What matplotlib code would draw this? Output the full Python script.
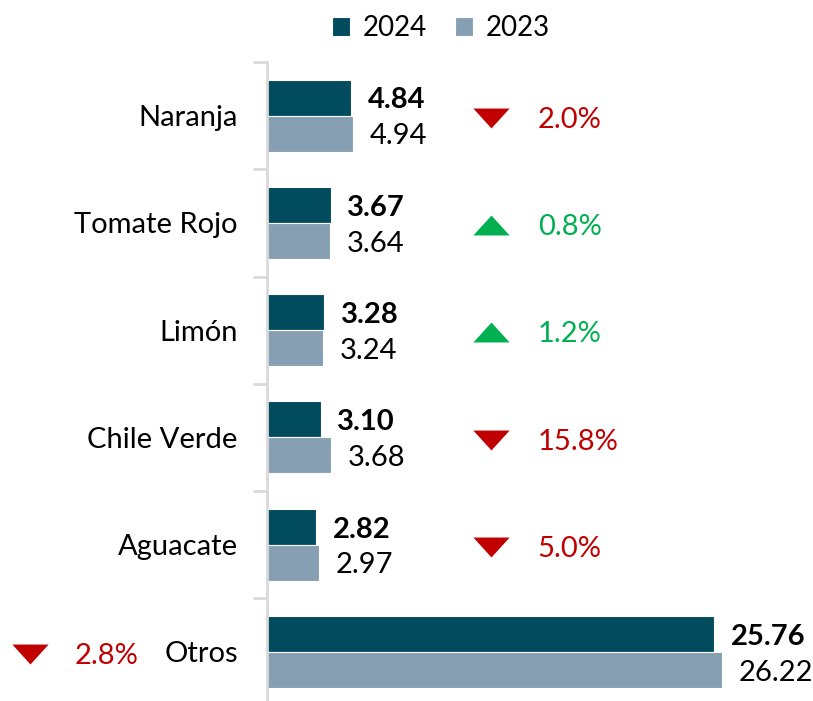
import matplotlib
matplotlib.use("Agg")
import matplotlib.pyplot as plt
import numpy as np
from matplotlib.path import Path

categories = ["Naranja", "Tomate Rojo", "Limón", "Chile Verde", "Aguacate", "Otros"]
values_2024 = [4.84, 3.67, 3.28, 3.10, 2.82, 25.76]
values_2023 = [4.94, 3.64, 3.24, 3.68, 2.97, 26.22]
pct_change = ["2.0%", "0.8%", "1.2%", "15.8%", "5.0%", "2.8%"]
direction = ["down", "up", "up", "down", "down", "down"]

C24 = "#014B5E"
C23 = "#879FB3"
RED = "#C00000"
GREEN = "#00B050"
FONT = ["Lato", "DejaVu Sans"]
plt.rcParams["font.family"] = FONT
FS = 21

W, H = 813, 701
fig = plt.figure(figsize=(W / 100, H / 100), dpi=100)
ax_left, ax_top, ax_bot = 267, 62, 705.6
ax = fig.add_axes([ax_left / W, 1 - ax_bot / H, (W - ax_left) / W, (ax_bot - ax_top) / H])

y = np.arange(len(categories))
bh = 0.335
ax.barh(y - bh / 2, values_2024, height=bh, color=C24, edgecolor="white", linewidth=0.8, label="2024")
ax.barh(y + bh / 2, values_2023, height=bh, color=C23, edgecolor="white", linewidth=0.8, label="2023")

ax.set_xlim(0, (W - ax_left) / 17.35)
ax.set_ylim(len(categories) - 0.5, -0.5)

for s in ["top", "right", "bottom"]:
    ax.spines[s].set_visible(False)
ax.spines["left"].set_color("#D9D9D9")
ax.spines["left"].set_linewidth(2)
ax.set_xticks([])
ax.set_yticks(np.arange(-0.5, len(categories) - 0.4, 1.0), minor=False)
ax.set_yticklabels([])
ax.tick_params(axis="y", length=10, width=2, color="#D9D9D9")
ax.set_yticks(y, minor=True)
ax.set_yticklabels(categories, minor=True, fontsize=FS)
ax.tick_params(axis="y", which="minor", length=0, pad=21)

for i, (a, b) in enumerate(zip(values_2024, values_2023)):
    ax.annotate(f"{a:.2f}", (a, i - bh / 2), xytext=(12, -2), textcoords="offset points",
                va="center", ha="left", fontsize=FS, fontweight="bold", color="black")
    ax.annotate(f"{b:.2f}", (b, i + bh / 2), xytext=(12, -2), textcoords="offset points",
                va="center", ha="left", fontsize=FS, color="black")

down_tri = Path([(-1, 0.55), (1, 0.55), (0, -0.55), (-1, 0.55)])
up_tri = Path([(-1, -0.55), (1, -0.55), (0, 0.55), (-1, -0.55)])

tri_x, txt_x = 12.9, 15.6
for i, (p, d) in enumerate(zip(pct_change, direction)):
    col = GREEN if d == "up" else RED
    mk = up_tri if d == "up" else down_tri
    if categories[i] == "Otros":
        tx, px = (30 - ax_left) / 17.35, (75 - ax_left) / 17.35
    else:
        tx, px = tri_x, txt_x
    ax.scatter([tx], [i + 0.02], marker=mk, s=680, color=col, clip_on=False, linewidths=0)
    ax.text(px, i + 0.04, p, color=col, fontsize=FS, va="center", ha="left", clip_on=False)

leg = fig.legend(loc="upper center", bbox_to_anchor=(441 / W, 1.0), ncol=2, frameon=False,
                 fontsize=20, handlelength=0.65, handleheight=0.65, handletextpad=0.45,
                 columnspacing=1.0, borderaxespad=0.15)

fig.savefig("out.png", dpi=100)
